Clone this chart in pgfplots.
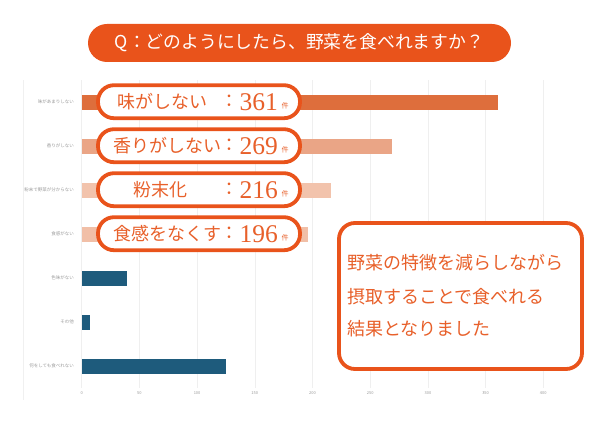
\documentclass[border=0pt]{standalone}
\usepackage{fontspec}
\usepackage{pgfplots}
\pgfplotsset{compat=1.18}
\newfontfamily\cjk{Noto Sans CJK JP}
\newfontfamily\numfont{Liberation Serif}
\setmainfont{Noto Sans CJK JP}

\definecolor{accent}{HTML}{E9531B}
\definecolor{txtorange}{HTML}{E8602A}
\definecolor{barA}{HTML}{DE6E3C}
\definecolor{barB}{HTML}{EAA586}
\definecolor{barC}{HTML}{F2C3AC}
\definecolor{barD}{HTML}{F1BFA7}
\definecolor{barblue}{HTML}{1E5B7C}
\definecolor{gridgray}{HTML}{EFEFEF}
\definecolor{labelgray}{HTML}{9A9A9A}

\begin{document}
\begin{tikzpicture}
\path[use as bounding box] (0pt,0pt) rectangle (599pt,423pt);
\draw[gray!12, line width=0.6pt] (23pt,23pt) -- (23pt,343pt);

\begin{axis}[
  at={(81.7pt,35pt)}, anchor=south west,
  scale only axis, width=461.6pt, height=308pt,
  xmin=0, xmax=400, ymin=-0.5, ymax=6.5, y dir=reverse,
  xbar, bar width=15pt, bar shift=0pt,
  xtick={0,50,...,400},
  ytick={0,...,6},
  yticklabels={味があまりしない, 香りがしない, 粉末で野菜が分からない, 食感がない, 色味がない, その他, 何をしても食べれない},
  xmajorgrids, grid style={draw=gridgray, line width=0.5pt},
  axis line style={draw=none}, tick style={draw=none},
  xticklabel style={font=\fontsize{4}{4}\selectfont, text=labelgray},
  yticklabel style={font=\cjk\fontsize{4.5}{5}\selectfont, text=labelgray},
  /pgf/number format/assume math mode=true,
]
\addplot[fill=barA, draw=none] coordinates {(361,0)};
\addplot[fill=barB, draw=none] coordinates {(269,1)};
\addplot[fill=barC, draw=none] coordinates {(216,2)};
\addplot[fill=barD, draw=none] coordinates {(196,3)};
\addplot[fill=barblue, draw=none] coordinates {(39,4)};
\addplot[fill=barblue, draw=none] coordinates {(7,5)};
\addplot[fill=barblue, draw=none] coordinates {(125,6)};
\end{axis}

% title pill
\node[fill=accent, rounded corners=19pt, minimum width=423pt, minimum height=38pt,
      text=white, font=\cjk\fontsize{17.8}{18}\selectfont] at (299.5pt,380pt)
      {Q：どのようにしたら、野菜を食べれますか？};

% label pills
\foreach \yc in {321.3,277.3,233.3,189.3}{
  \draw[accent, line width=3.8pt, fill=white, rounded corners=16pt]
    (98pt,\yc pt-16.5pt) rectangle (300pt,\yc pt+16.5pt);
}
\begin{scope}[every node/.style={text=txtorange, inner sep=0pt}]
\node[anchor=west, font=\cjk\fontsize{18}{18}\selectfont] at (117pt,321.3pt) {味がしない};
\node[anchor=west, font=\cjk\fontsize{18}{18}\selectfont] at (113pt,277.3pt) {香りがしない};
\node[anchor=west, font=\cjk\fontsize{18}{18}\selectfont] at (133pt,233.3pt) {粉末化};
\node[anchor=west, font=\cjk\fontsize{18}{18}\selectfont] at (113pt,189.3pt) {食感をなくす};
\foreach \yc/\num in {321.3/361,277.3/269,233.3/216,189.3/196}{
  \node[font=\cjk\fontsize{18}{18}\selectfont] at (229.5pt,\yc pt) {：};
  \node[anchor=west, font=\numfont\fontsize{25.5}{25}\selectfont] at (239.5pt,\yc pt) {\num};
  \node[anchor=west, font=\cjk\fontsize{7}{7}\selectfont] at (281.5pt,\yc pt-4pt) {件};
}
\end{scope}

% callout box
\draw[accent, line width=3.8pt, fill=white, rounded corners=16pt]
  (339pt,54pt) rectangle (582pt,200pt);
\begin{scope}[every node/.style={text=txtorange, inner sep=0pt, anchor=west,
    font=\cjk\fontsize{18}{18}\selectfont}]
\node at (347pt,160pt) {野菜の特徴を減らしながら};
\node at (347pt,126pt) {摂取することで食べれる};
\node at (347pt,94pt) {結果となりました};
\end{scope}
\end{tikzpicture}
\end{document}
